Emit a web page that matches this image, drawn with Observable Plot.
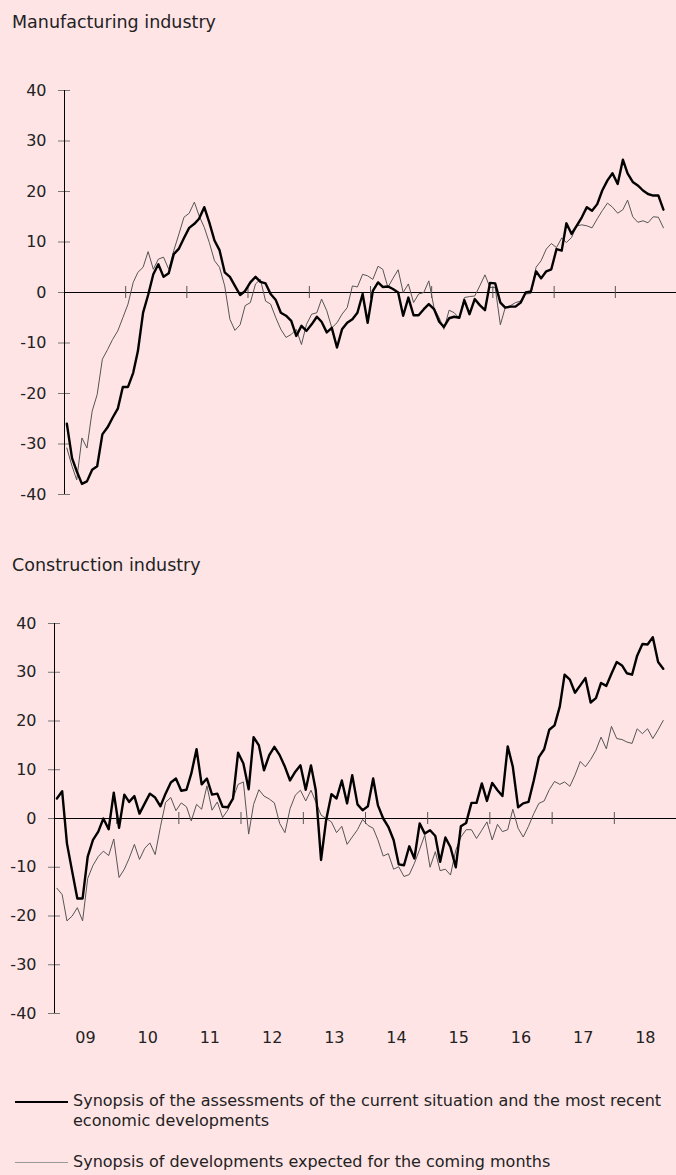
<!DOCTYPE html>
<html>
<head>
<meta charset="utf-8">
<script src="https://cdn.jsdelivr.net/npm/d3@7"></script>
<script src="https://cdn.jsdelivr.net/npm/@observablehq/plot@0.6"></script>
<style>
html, body { margin: 0; padding: 0; background: #ffe4e6; }
body { width: 676px; height: 1175px; position: relative; overflow: hidden; font-family: "DejaVu Sans", sans-serif; color: #222; }
.title { position: absolute; left: 12px; font-size: 17.5px; line-height: 22px; white-space: nowrap; }
#topChart { position: absolute; left: 0; top: 70px; }
#bottomChart { position: absolute; left: 0; top: 600px; }
.leg { position: absolute; left: 73px; font-size: 16px; line-height: 20px; white-space: nowrap; }
.swatch { position: absolute; left: 15px; width: 53px; }
</style>
</head>
<body>
<div class="title" style="top:11px">Manufacturing industry</div>
<div id="topChart"></div>
<div class="title" style="top:554px">Construction industry</div>
<div id="bottomChart"></div>
<div class="swatch" style="top:1101px;height:2px;background:#000"></div>
<div class="leg" style="top:1091px">Synopsis of the assessments of the current situation and the most recent<br>economic developments</div>
<div class="swatch" style="top:1162px;height:1px;background:#999"></div>
<div class="leg" style="top:1152px">Synopsis of developments expected for the coming months</div>
<script>
// Manufacturing industry, monthly Jan 2009 – Oct 2018
const mfgCurrent = [
  -26.0, -32.8, -35.4, -37.9, -37.4, -35.1, -34.4, -28.1, -26.7, -24.8, -23.0, -18.7,
  -18.7, -15.9, -11.6, -4.0, -0.5, 3.6, 5.6, 3.1, 3.8, 7.6, 8.7, 10.8,
  12.8, 13.6, 14.6, 16.9, 13.9, 10.3, 8.4, 4.0, 3.1, 1.3, -0.5, 0.3,
  2.0, 3.1, 2.1, 1.8, -0.3, -1.5, -4.0, -4.6, -5.6, -8.6, -6.6, -7.6,
  -6.3, -4.8, -5.8, -7.9, -7.0, -10.9, -7.3, -6.0, -5.3, -4.0, -0.3, -6.0,
  0.3, 2.0, 1.1, 1.2, 0.7, 0.0, -4.6, -1.0, -4.5, -4.5, -3.3, -2.3,
  -3.3, -5.8, -6.8, -5.1, -4.8, -5.0, -1.5, -4.3, -1.3, -2.5, -3.5, 1.9,
  1.8, -2.0, -3.0, -2.8, -2.8, -2.0, 0.0, 0.2, 4.2, 2.8, 4.2, 4.6,
  8.6, 8.3, 13.7, 11.6, 13.2, 14.9, 16.9, 16.2, 17.5, 20.2, 22.2, 23.6,
  21.5, 26.3, 23.6, 21.9, 21.2, 20.2, 19.5, 19.2, 19.2, 16.4
];
const mfgExpected = [
  -30.8, -34.4, -37.1, -28.8, -30.8, -23.5, -20.2, -13.2, -11.3, -9.3, -7.6, -5.0,
  -2.3, 2.0, 4.0, 5.0, 8.1, 4.6, 6.6, 7.0, 4.6, 8.3, 11.6, 14.9,
  15.7, 17.9, 15.2, 12.9, 9.9, 6.3, 5.0, 1.3, -5.3, -7.5, -6.4, -2.6,
  -2.0, 1.7, 2.6, -1.7, -2.3, -5.0, -7.3, -8.9, -8.3, -7.3, -10.3, -6.3,
  -4.3, -4.0, -1.3, -3.6, -7.0, -6.0, -4.3, -3.0, 1.3, 1.1, 3.6, 3.3,
  2.6, 5.2, 4.6, 1.0, 2.8, 4.5, 0.0, 1.7, -2.0, -0.3, 0.0, 2.3,
  -3.0, -5.0, -7.3, -3.5, -4.0, -5.1, -1.0, -0.8, -0.7, 1.3, 3.5, 1.0,
  1.0, -6.4, -3.0, -2.6, -2.0, -1.7, -0.3, -0.2, 5.0, 6.3, 8.6, 9.7,
  8.9, 10.8, 9.9, 10.9, 13.2, 13.4, 13.2, 12.8, 14.6, 16.2, 17.7, 16.9,
  15.7, 16.4, 18.3, 15.0, 13.9, 14.2, 13.8, 15.0, 14.9, 12.8
];
// Construction industry
const conCurrent = [
  4.1, 5.6, -5.1, -10.9, -16.4, -16.4, -7.8, -4.4, -2.7, 0.0, -2.2, 5.3,
  -1.9, 4.9, 3.4, 4.6, 1.0, 3.1, 5.1, 4.3, 2.5, 5.1, 7.4, 8.2,
  5.7, 5.9, 9.2, 14.2, 7.0, 8.2, 4.9, 5.1, 2.4, 2.3, 4.1, 13.5,
  11.3, 6.0, 16.7, 15.0, 9.9, 13.0, 14.7, 13.0, 10.6, 7.8, 9.6, 10.9,
  5.9, 10.9, 5.8, -8.5, -0.3, 5.0, 4.1, 7.8, 3.1, 8.9, 2.9, 1.7,
  2.5, 8.2, 2.7, 0.0, -1.7, -4.4, -9.4, -9.6, -5.7, -8.2, -1.0, -3.1,
  -2.4, -3.6, -8.9, -3.9, -5.9, -10.0, -1.6, -0.9, 3.2, 3.2, 7.2, 3.6,
  7.3, 5.8, 4.6, 14.8, 10.6, 2.3, 3.1, 3.4, 7.8, 12.6, 14.2, 18.2,
  19.1, 23.0, 29.5, 28.5, 25.8, 27.3, 28.8, 23.8, 24.7, 27.8, 27.2, 29.7,
  32.1, 31.4, 29.8, 29.5, 33.4, 35.8, 35.7, 37.2, 32.1, 30.7
];
const conExpected = [
  -14.3, -15.6, -21.0, -20.0, -18.3, -21.0, -12.3, -9.6, -7.8, -6.7, -7.6, -4.2,
  -12.1, -10.4, -8.2, -5.3, -8.4, -6.1, -5.0, -7.4, -1.7, 3.3, 4.3, 1.6,
  3.2, 2.4, -0.5, 2.9, 1.9, 6.7, 1.7, 3.4, 0.2, 1.7, 4.1, 7.0,
  7.5, -3.2, 2.9, 5.9, 4.6, 4.0, 3.2, -1.0, -2.9, 2.0, 4.8, 5.8,
  3.6, 5.8, 3.4, 0.7, 0.0, -0.7, -2.9, -1.6, -5.3, -3.8, -2.3, -0.2,
  -1.4, -2.0, -4.4, -7.7, -7.2, -10.4, -9.9, -11.9, -11.5, -9.2, -6.3, -3.4,
  -10.0, -6.8, -10.7, -10.4, -11.6, -6.5, -3.8, -2.3, -2.3, -4.1, -2.4, -0.7,
  -4.4, -1.2, -2.7, -2.3, 1.9, -2.0, -3.8, -1.6, 1.0, 3.1, 3.6, 5.9,
  7.6, 7.0, 7.5, 6.6, 8.9, 11.7, 10.6, 12.1, 14.0, 16.7, 14.3, 18.9,
  16.4, 16.2, 15.7, 15.4, 18.4, 17.4, 18.4, 16.4, 18.2, 20.1
];
const yTicks = [-40, -30, -20, -10, 0, 10, 20, 30, 40];
const years = [2009, 2010, 2011, 2012, 2013, 2014, 2015, 2016, 2017, 2018];
const yearLabels = ["09", "10", "11", "12", "13", "14", "15", "16", "17", "18"];

const start = new Date(Date.UTC(2009, 0, 1));
const end = new Date(Date.UTC(2019, 0, 1));
const months = mfgCurrent.map((_, i) => new Date(Date.UTC(2009, i, 15)));
const mfg = months.map((d, i) => ({date: d, current: mfgCurrent[i], expected: mfgExpected[i]}));
const con = months.map((d, i) => ({date: d, current: conCurrent[i], expected: conExpected[i]}));
const yearStarts = years.slice(1).concat([2019]).map(y => new Date(Date.UTC(y, 0, 1)));
const yearMids = years.map(y => new Date(Date.UTC(y, 6, 2)));

function panel(data, opts) {
  return Plot.plot({
    width: 676,
    height: opts.height,
    marginLeft: opts.marginLeft,
    marginRight: 0,
    marginTop: opts.marginTop,
    marginBottom: opts.marginBottom,
    style: {background: "transparent", fontFamily: "DejaVu Sans, sans-serif", fontSize: "16px", color: "#222", overflow: "visible"},
    x: {type: "utc", domain: [start, end], axis: null},
    y: {domain: [-40, 40], axis: null},
    marks: [
      Plot.ruleY(yTicks, {y: d => d, x1: () => start, x2: () => start, insetLeft: -6, insetRight: -6, stroke: "#777", strokeWidth: 1}),
      Plot.axisY({ticks: yTicks, tickSize: 0, tickPadding: 18, tickFormat: d => String(d), label: null, fontSize: 16, fill: "#222"}),
      Plot.ruleX([start], {stroke: "#000", strokeWidth: 1}),
      Plot.ruleY([0], {stroke: "#000", strokeWidth: 1}),
      Plot.ruleX(yearStarts, {x: d => d, y1: () => 0, y2: () => 0, insetTop: -6, insetBottom: -6, stroke: "#555", strokeWidth: 1}),
      Plot.line(data, {x: "date", y: "expected", stroke: "#555", strokeWidth: 1}),
      Plot.line(data, {x: "date", y: "current", stroke: "#000", strokeWidth: 2.4}),
      ...(opts.xLabels ? [Plot.axisX({ticks: yearMids, tickSize: 0, tickPadding: 18, tickFormat: d => yearLabels[d.getUTCFullYear() - 2009], label: null, fontSize: 16, fill: "#222"})] : [])
    ]
  });
}

document.getElementById("topChart").append(panel(mfg, {height: 440, marginLeft: 64, marginTop: 20, marginBottom: 16, xLabels: false}));
document.getElementById("bottomChart").append(panel(con, {height: 456, marginLeft: 54, marginTop: 23, marginBottom: 43, xLabels: true}));
</script>
</body>
</html>
